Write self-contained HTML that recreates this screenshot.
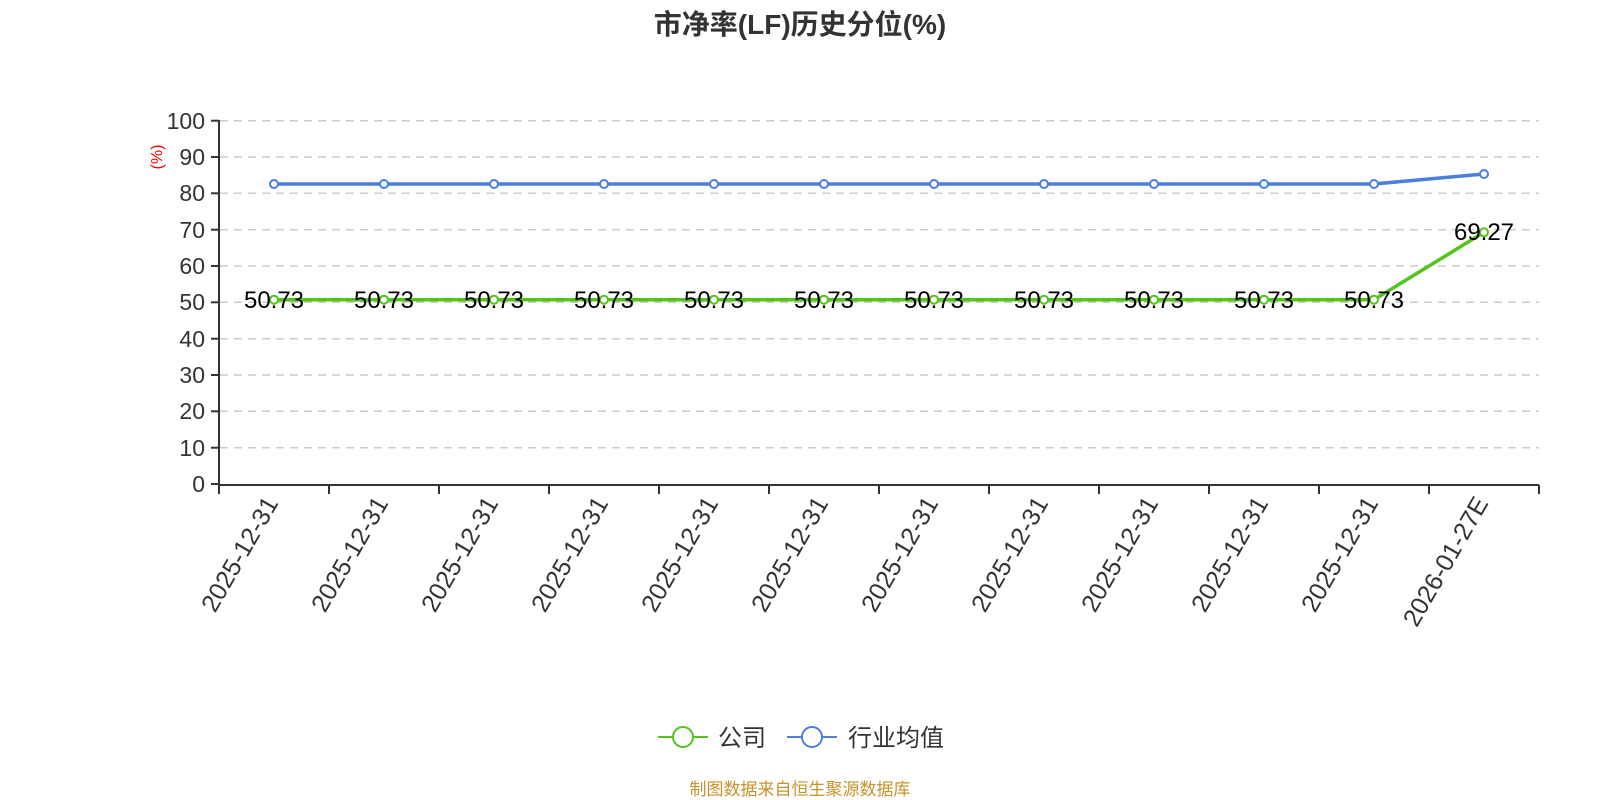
<!DOCTYPE html>
<html><head><meta charset="utf-8"><style>
html,body{margin:0;padding:0;background:#fff;}
svg{display:block;font-family:"Liberation Sans","Noto Sans CJK SC",sans-serif;}
</style></head><body>
<svg width="1600" height="800" viewBox="0 0 1600 800" xmlns="http://www.w3.org/2000/svg">
<text x="800" y="34" text-anchor="middle" font-size="28" font-weight="bold" fill="#333">市净率(LF)历史分位(%)</text>
<g stroke="#ccc" stroke-width="1.5" stroke-dasharray="8,6">
<line x1="220" y1="120.7" x2="1539" y2="120.7"/>
<line x1="220" y1="157" x2="1539" y2="157"/>
<line x1="220" y1="193.3" x2="1539" y2="193.3"/>
<line x1="220" y1="229.7" x2="1539" y2="229.7"/>
<line x1="220" y1="266" x2="1539" y2="266"/>
<line x1="220" y1="302.3" x2="1539" y2="302.3"/>
<line x1="220" y1="338.7" x2="1539" y2="338.7"/>
<line x1="220" y1="375" x2="1539" y2="375"/>
<line x1="220" y1="411.3" x2="1539" y2="411.3"/>
<line x1="220" y1="447.7" x2="1539" y2="447.7"/>
</g>
<g stroke="#333" stroke-width="2">
<line x1="219" y1="120" x2="219" y2="485"/>
<line x1="219" y1="485" x2="1539" y2="485"/>
<line x1="211" y1="120.7" x2="219" y2="120.7"/><line x1="211" y1="157" x2="219" y2="157"/>
<line x1="211" y1="193.3" x2="219" y2="193.3"/><line x1="211" y1="229.7" x2="219" y2="229.7"/>
<line x1="211" y1="266" x2="219" y2="266"/><line x1="211" y1="302.3" x2="219" y2="302.3"/>
<line x1="211" y1="338.7" x2="219" y2="338.7"/><line x1="211" y1="375" x2="219" y2="375"/>
<line x1="211" y1="411.3" x2="219" y2="411.3"/><line x1="211" y1="447.7" x2="219" y2="447.7"/>
<line x1="211" y1="484" x2="219" y2="484"/>
<line x1="219" y1="485" x2="219" y2="494"/><line x1="329" y1="485" x2="329" y2="494"/>
<line x1="439" y1="485" x2="439" y2="494"/><line x1="549" y1="485" x2="549" y2="494"/>
<line x1="659" y1="485" x2="659" y2="494"/><line x1="769" y1="485" x2="769" y2="494"/>
<line x1="879" y1="485" x2="879" y2="494"/><line x1="989" y1="485" x2="989" y2="494"/>
<line x1="1099" y1="485" x2="1099" y2="494"/><line x1="1209" y1="485" x2="1209" y2="494"/>
<line x1="1319" y1="485" x2="1319" y2="494"/><line x1="1429" y1="485" x2="1429" y2="494"/>
<line x1="1539" y1="485" x2="1539" y2="494"/>
</g>
<g font-size="23" fill="#333" text-anchor="end">
<text x="205" y="129">100</text><text x="205" y="165">90</text><text x="205" y="201">80</text>
<text x="205" y="238">70</text><text x="205" y="274">60</text><text x="205" y="310">50</text>
<text x="205" y="347">40</text><text x="205" y="383">30</text><text x="205" y="419">20</text>
<text x="205" y="456">10</text><text x="205" y="492">0</text>
</g>
<text transform="translate(162,157) rotate(-90)" text-anchor="middle" font-size="16" fill="#f00">(%)</text>
<g font-size="25" fill="#333" text-anchor="end">
<text transform="translate(279,503) rotate(-60)">2025-12-31</text>
<text transform="translate(389,503) rotate(-60)">2025-12-31</text>
<text transform="translate(499,503) rotate(-60)">2025-12-31</text>
<text transform="translate(609,503) rotate(-60)">2025-12-31</text>
<text transform="translate(719,503) rotate(-60)">2025-12-31</text>
<text transform="translate(829,503) rotate(-60)">2025-12-31</text>
<text transform="translate(939,503) rotate(-60)">2025-12-31</text>
<text transform="translate(1049,503) rotate(-60)">2025-12-31</text>
<text transform="translate(1159,503) rotate(-60)">2025-12-31</text>
<text transform="translate(1269,503) rotate(-60)">2025-12-31</text>
<text transform="translate(1379,503) rotate(-60)">2025-12-31</text>
<text transform="translate(1489,503) rotate(-60)">2026-01-27E</text>
</g>
<polyline fill="none" stroke="#4a7fdc" stroke-width="3.5" points="274,184 1374,184 1484,174"/>
<polyline fill="none" stroke="#52c41a" stroke-width="3.5" points="274,299.7 1374,299.7 1484,232.3"/>
<g fill="#fff" stroke="#4a7fdc" stroke-width="2">
<circle cx="274" cy="184" r="4"/><circle cx="384" cy="184" r="4"/><circle cx="494" cy="184" r="4"/><circle cx="604" cy="184" r="4"/><circle cx="714" cy="184" r="4"/><circle cx="824" cy="184" r="4"/><circle cx="934" cy="184" r="4"/><circle cx="1044" cy="184" r="4"/><circle cx="1154" cy="184" r="4"/><circle cx="1264" cy="184" r="4"/><circle cx="1374" cy="184" r="4"/><circle cx="1484" cy="174" r="4"/>
</g>
<g fill="#fff" stroke="#52c41a" stroke-width="2">
<circle cx="274" cy="299.7" r="4"/><circle cx="384" cy="299.7" r="4"/><circle cx="494" cy="299.7" r="4"/><circle cx="604" cy="299.7" r="4"/><circle cx="714" cy="299.7" r="4"/><circle cx="824" cy="299.7" r="4"/><circle cx="934" cy="299.7" r="4"/><circle cx="1044" cy="299.7" r="4"/><circle cx="1154" cy="299.7" r="4"/><circle cx="1264" cy="299.7" r="4"/><circle cx="1374" cy="299.7" r="4"/><circle cx="1484" cy="232.3" r="4"/>
</g>
<g font-size="24" fill="#000" text-anchor="middle">
<text x="274" y="308">50.73</text><text x="384" y="308">50.73</text><text x="494" y="308">50.73</text><text x="604" y="308">50.73</text><text x="714" y="308">50.73</text><text x="824" y="308">50.73</text><text x="934" y="308">50.73</text><text x="1044" y="308">50.73</text><text x="1154" y="308">50.73</text><text x="1264" y="308">50.73</text><text x="1374" y="308">50.73</text><text x="1484" y="240">69.27</text>
</g>
<line x1="658" y1="737" x2="708" y2="737" stroke="#52c41a" stroke-width="2"/>
<circle cx="683" cy="737" r="10" fill="#fff" stroke="#52c41a" stroke-width="2"/>
<text x="718" y="746" font-size="24" fill="#333">公司</text>
<line x1="787" y1="737" x2="837" y2="737" stroke="#4a7fdc" stroke-width="2"/>
<circle cx="812" cy="737" r="10" fill="#fff" stroke="#4a7fdc" stroke-width="2"/>
<text x="848" y="746" font-size="24" fill="#333">行业均值</text>
<text x="800" y="795" text-anchor="middle" font-size="17" fill="#c8922a">制图数据来自恒生聚源数据库</text>
</svg>
</body></html>
